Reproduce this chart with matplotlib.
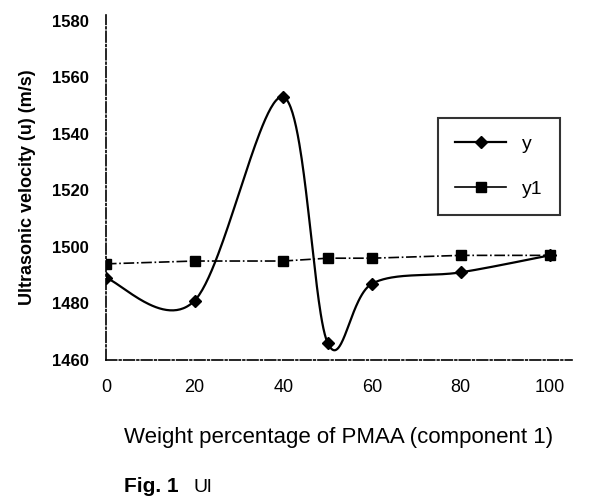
import numpy as np
import matplotlib
matplotlib.use("Agg")
import matplotlib.pyplot as plt
from matplotlib.lines import Line2D

plt.rcParams['font.family'] = ['Liberation Sans', 'DejaVu Sans']

# data
x_vals = [0, 20, 40, 50, 60, 80, 100]
y_vals = [1489, 1481, 1553, 1466, 1487, 1491, 1497]
y1_vals = [1494, 1495, 1495, 1496, 1496, 1497, 1497]
x_ticks = [0, 20, 40, 60, 80, 100]
y_ticks = [1460, 1480, 1500, 1520, 1540, 1560, 1580]

XLIM = (0, 105)
YLIM = (1460, 1582)


def smooth(xs, ys, n=60):
    """Excel-like smoothed line (cardinal Bezier) in normalised space."""
    sx = (XLIM[1] - XLIM[0])
    sy = (YLIM[1] - YLIM[0])
    P = np.column_stack([(np.array(xs) - XLIM[0]) / sx,
                         (np.array(ys) - YLIM[0]) / sy * 0.72])
    out = []
    m = len(P)
    for i in range(m - 1):
        p0 = P[i - 1] if i > 0 else P[i]
        p1, p2 = P[i], P[i + 1]
        p3 = P[i + 2] if i + 2 < m else P[i + 1]
        c1 = p1 + (p2 - p0) / 6.0
        c2 = p2 - (p3 - p1) / 6.0
        t = np.linspace(0, 1, n)[:, None]
        seg = ((1 - t) ** 3) * p1 + 3 * ((1 - t) ** 2) * t * c1 + 3 * (1 - t) * t ** 2 * c2 + t ** 3 * p2
        out.append(seg if i == 0 else seg[1:])
    Q = np.vstack(out)
    return Q[:, 0] * sx + XLIM[0], Q[:, 1] / 0.72 * sy + YLIM[0]


fig = plt.figure(figsize=(6.05, 5.0), dpi=100)
ax = fig.add_axes([0.175, 0.28, 0.77, 0.69])

sx, sy = smooth(x_vals, y_vals)
ax.plot(sx, sy, color='black', lw=1.6)
ax.plot(x_vals, y_vals, linestyle='none', marker='D', ms=6, color='black')
ax.plot(x_vals, y1_vals, linestyle='-.', lw=1.2, marker='s', ms=7, color='black')

# legend proxies
h1 = Line2D([], [], color='black', lw=1.6, marker='D', ms=6)
h2 = Line2D([], [], color='black', lw=1.2, linestyle='-', marker='s', ms=7)
leg = ax.legend([h1, h2], ['y', 'y1'], loc='upper right',
                bbox_to_anchor=(0.995, 0.73), fancybox=False, frameon=True,
                edgecolor='black', fontsize=14, handlelength=2.6,
                labelspacing=1.4, borderpad=0.9)
leg.get_frame().set_linewidth(1.5)

ax.set_xlim(*XLIM)
ax.set_ylim(*YLIM)
ax.set_xticks(x_ticks)
ax.set_yticks(y_ticks)
ax.tick_params(axis='x', length=0, labelsize=13, pad=14)
ax.tick_params(axis='y', length=0, labelsize=12, pad=12)
for lab in ax.get_yticklabels():
    lab.set_fontweight('bold')
for s in ['top', 'right']:
    ax.spines[s].set_visible(False)
for s in ['left', 'bottom']:
    ax.spines[s].set_linestyle('-.')
    ax.spines[s].set_linewidth(1.2)

ax.set_xlabel('Weight percentage of PMAA (component 1)', fontsize=16, labelpad=22)
ax.set_ylabel('Ultrasonic velocity (u) (m/s)', fontsize=13, fontweight='bold', labelpad=12)

fig.text(0.205, 0.015, 'Fig. 1', fontsize=15, fontweight='bold')
fig.text(0.32, 0.015, 'Ul', fontsize=14)

fig.savefig('out.png', dpi=100)
